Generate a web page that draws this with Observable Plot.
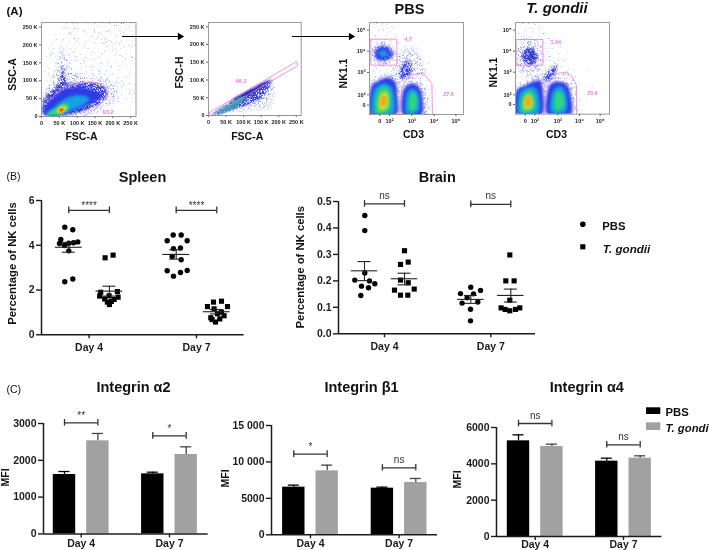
<!DOCTYPE html>
<html>
<head>
<meta charset="utf-8">
<script src="https://cdn.jsdelivr.net/npm/d3@7"></script>
<script src="https://cdn.jsdelivr.net/npm/@observablehq/plot@0.6"></script>
<style>
html,body{margin:0;padding:0;background:#fff;overflow:hidden}
#page{position:relative;width:709px;height:550px;overflow:hidden;background:#fff;filter:blur(0.3px)}
#page svg{position:absolute;overflow:visible;background:transparent}
</style>
</head>
<body>
<svg width="0" height="0" style="position:absolute">
  <defs>
    <filter id="stippleSparse" x="-15%" y="-15%" width="130%" height="130%" color-interpolation-filters="sRGB">
      <feGaussianBlur in="SourceGraphic" stdDeviation="1.5" result="soft"/>
      <feTurbulence type="fractalNoise" baseFrequency="1.6" numOctaves="1" seed="4" result="n"/>
      <feColorMatrix in="n" type="matrix" values="0 0 0 0 0  0 0 0 0 0  0 0 0 0 0  0 0 0 7 -4.6" result="mask"/>
      <feComposite in="soft" in2="mask" operator="in"/>
    </filter>
    <filter id="stippleMid" x="-15%" y="-15%" width="130%" height="130%" color-interpolation-filters="sRGB">
      <feGaussianBlur in="SourceGraphic" stdDeviation="1.5" result="soft"/>
      <feTurbulence type="fractalNoise" baseFrequency="1.6" numOctaves="1" seed="9" result="n"/>
      <feColorMatrix in="n" type="matrix" values="0 0 0 0 0  0 0 0 0 0  0 0 0 0 0  0 0 0 6 -3.1" result="mask"/>
      <feComposite in="soft" in2="mask" operator="in"/>
    </filter>
    <filter id="stippleDense" x="-15%" y="-15%" width="130%" height="130%" color-interpolation-filters="sRGB">
      <feGaussianBlur in="SourceGraphic" stdDeviation="1.2" result="soft"/>
      <feTurbulence type="fractalNoise" baseFrequency="1.6" numOctaves="1" seed="15" result="n"/>
      <feColorMatrix in="n" type="matrix" values="0 0 0 0 0  0 0 0 0 0  0 0 0 0 0  0 0 0 6 -2.2" result="mask"/>
      <feComposite in="soft" in2="mask" operator="in"/>
    </filter>
  </defs>
</svg>
<div id="page"></div>
<script>
// ---------- Data: scatter panels (value and swarm offset per animal) ----------
const days = ["Day 4", "Day 7"];
const spleenPbsD4 = [4.81,4.69,4.26,4.08,3.99,4.09,4.11,4.15,3.75,2.37,2.49];
const spleenPbsD4J = [-4,4,-8,-9.3,-4.3,0,4.7,9,0,-4,4];
const spleenTgD4 = [3.44,3.56,1.93,1.9,1.73,1.74,1.68,1.6,1.58,1.46,1.49,1.35];
const spleenTgD4J = [-4.3,3.7,8,-8.7,-9.7,-0.3,8.7,-4.7,4.7,-2,2,0];
const spleenPbsD7 = [4.46,4.46,4.2,4.2,3.85,3.88,3.5,3.35,2.86,2.87,2.78,2.62];
const spleenPbsD7J = [-3,5,-9,11,-2.7,4.3,-4,5,-9,11,4.3,-2.7];
const spleenTgD7 = [1.46,1.5,1.26,1.26,1.16,1.01,0.94,0.85,0.76,0.71,0.57,0.68];
const spleenTgD7J = [-3.3,4.7,-9.3,10.7,-2.7,4.7,0.7,7.3,-6,3,-1.3,-4.7];
const spleenMean = [3.91,1.95,3.59,1.03];
const spleenLo = [3.69,1.73,3.38,0.93];
const spleenHi = [4.13,2.17,3.8,1.13];

const brainPbsD4 = [0.447,0.39,0.23,0.203,0.2,0.189,0.18,0.174,0.145];
const brainPbsD4J = [0.3,0.3,0.3,-9.7,5,10.3,-3,4,-3.7];
const brainTgD4 = [0.314,0.262,0.271,0.203,0.193,0.165,0.169,0.146,0.146];
const brainTgD4J = [0,-4,3.7,-4,3.7,-10,9.7,-4,3.3];
const brainPbsD7 = [0.176,0.152,0.164,0.151,0.136,0.116,0.12,0.093,0.049];
const brainPbsD7J = [0,-10.3,9.7,2.7,-3.7,-8.7,7,-0.3,-0.3];
const brainTgD7 = [0.298,0.2,0.2,0.127,0.098,0.098,0.092,0.092,0.087];
const brainTgD7J = [-1,-5,3.3,-1,-9.7,9,-5.7,4.7,-1];
const brainMean = [0.238,0.208,0.13,0.145];
const brainLo = [0.201,0.185,0.115,0.12];
const brainHi = [0.273,0.229,0.145,0.169];

// ---------- Data: bar panels (PBS D4, T.g D4, PBS D7, T.g D7) ----------
const alpha2Mean = [1614,2530,1632,2158];
const alpha2Err = [1695,2729,1677,2366];
const beta1Mean = [6540,8780,6400,7180];
const beta1Err = [6815,9560,6540,7730];
const alpha4Mean = [5266,4954,4147,4312];
const alpha4Err = [5596,5083,4312,4440];

// ---------- Data: flow cytometry populations (outlines) ----------
// FSC-A / SSC-A, in thousands
const gateScatter = [[14,36],[49,72],[87,89],[133,96],[166,92],[185,73],[180,50],[152,22],[119,1]];
const scatterHaze = [[5,100],[45,240],[120,255],[262,255],[262,40],[215,20],[190,60],[100,120]];
const scatterPale = [[7,4],[6,59],[30,101],[44,147],[59,196],[73,160],[87,125],[133,115],[190,100],[212,59],[180,25],[124,4]];
const scatterMid = [[8,6],[8,50],[30,73],[49,96],[59,138],[66,111],[77,92],[124,96],[171,87],[185,64],[171,41],[115,13],[68,4]];
const scatterDeep = [[10,6],[10,31],[35,55],[68,78],[115,82],[157,69],[171,59],[157,45],[115,25],[73,8]];
const scatterCyan = [[14,6],[31,22],[59,45],[96,59],[133,53],[124,36],[87,18],[49,5]];
const scatterGreen = [[16,7],[40,22],[63,36],[77,31],[73,19],[44,6]];
const scatterYellow = [[42,14],[54,29],[68,29],[70,19],[54,8]];
const scatterOrange = [[47,15],[54,24],[63,24],[64,16],[54,11]];
const scatterRed = [[51,17],[55,21],[59,20],[58,16]];
const scatterSpeckle = [[62,215],[55,195],[70,200],[60,180],[50,165],[75,170],[65,160],[80,150],[45,150],[55,140],[85,135],[70,140],[90,180],[100,210],[110,175],[120,150],[130,190],[140,140],[150,160],[160,130],[170,175],[180,125],[190,150],[200,120],[210,100],[220,130],[230,90],[240,110],[250,70],[205,70],[215,50],[225,60],[190,40],[200,30],[235,160],[245,200],[255,230],[180,215],[160,235],[140,225],[120,240],[100,245],[80,235],[60,245],[40,230],[30,200],[25,170],[35,130],[20,120],[15,100],[120,200],[150,205],[170,205],[200,185],[220,170],[250,130],[255,165],[210,225],[230,235],[245,250],[100,260],[130,261],[150,260],[170,261],[190,260],[210,261],[230,260],[250,261],[120,261],[90,260],[70,260],[262,240],[262,200],[262,160],[262,120],[262,90],[262,50],[110,120],[125,125],[95,115],[145,115],[165,110],[185,105],[175,60],[195,55],[215,80]];
// FSC-A / FSC-H, in thousands
const gateSinglets = [[1,7.5],[251,152],[254,140],[9,0],[1,7.5]];
const singletPale = [[6,1],[92,52],[178,102],[183,34],[159,20],[73,10],[34,4]];
const singletBlue = [[15,6],[92,57],[174,98],[159,57],[121,34],[63,15],[30,4]];
const singletDeep = [[73,48],[178,100],[140,71],[92,48]];
const singletTeal = [[20,8],[63,34],[92,52],[106,48],[73,23],[34,6]];
const singletSpeckle = [[165,80],[170,70],[175,60],[172,50],[178,90],[180,40],[168,30],[160,25],[150,18],[140,15],[178,75],[182,55],[155,40],[175,35],[185,80],[165,45]];
// CD3 / NK1.1 in display channels
const cd3Ticks = ["0","10²","10³","10⁴","10⁵"];
const nkTicks = ["10⁵","10⁴","10³","10²","0"];
const pbsXTickCh = [39,68,135,202,267];
const pbsYTickCh = [30,93,157,224,255];
const tgXTickCh = [39,68,137,202,264];
const tgYTickCh = [30,93,156,224,253];
const pbsLeft = [
  [[12,283],[12,205],[30,185],[60,172],[85,185],[92,230],[88,283]],
  [[18,282],[20,215],[40,192],[65,192],[80,215],[80,282]],
  [[28,276],[30,222],[50,200],[70,215],[72,260],[60,276]],
  [[36,264],[39,228],[55,214],[65,232],[63,258],[50,270]],
  [[43,254],[44,232],[54,226],[58,240],[56,252],[50,258]]
];
const pbsLeftPale = [[5,285],[5,190],[30,172],[72,160],[94,178],[97,285]];
const pbsRight = [
  [[108,283],[108,215],[128,192],[150,195],[165,220],[165,283]],
  [[118,280],[118,225],[135,205],[155,220],[158,265],[148,280]],
  [[128,268],[128,232],[140,216],[150,235],[150,258],[140,270]]
];
const pbsRightPale = [[98,283],[100,198],[125,178],[158,182],[180,212],[184,283]];
const pbsNkPale = [[12,100],[28,66],[62,66],[88,100],[66,134],[28,134]];
const pbsNkBlue = [[25,100],[35,82],[60,82],[78,100],[60,118],[35,118]];
const pbsNkCyan = [[35,100],[45,90],[60,95],[65,105],[50,110]];
const pbsBridgePale = [[85,180],[90,110],[130,80],[165,120],[172,178],[130,190]];
const pbsBridgeBlue = [[99,172],[104,135],[120,122],[136,135],[133,160],[120,172]];
const pbsHaze = [[12,60],[20,15],[70,10],[95,60],[92,150],[20,165]];
const pbsSpeckle = [[30,10],[45,15],[60,12],[75,20],[35,30],[50,30],[70,35],[25,45],[60,45],[85,50],[95,70],[105,90],[115,80],[125,95],[135,85],[150,100],[160,115],[145,125],[165,135],[175,150],[120,60],[100,110],[90,135],[80,145],[60,150],[40,150],[20,150],[25,170],[180,180],[195,170],[205,220],[210,260],[185,130],[155,75],[110,45],[130,110],[95,150],[15,60],[15,120],[200,200]];
const pbsGateNk = [[12,57],[90,57],[90,135],[12,135],[12,57]];
const pbsGateT = [[98,280],[105,200],[130,165],[168,157],[195,190],[197,283]];
const tgLeft = [
  [[12,282],[12,215],[40,195],[78,180],[90,195],[90,282]],
  [[20,280],[20,225],[40,205],[65,200],[80,225],[78,280]],
  [[28,274],[30,232],[48,212],[65,222],[70,260],[55,274]],
  [[36,264],[36,237],[50,222],[62,240],[60,260],[48,268]],
  [[41,256],[43,234],[52,228],[57,240],[55,254],[48,260]]
];
const tgLeftPale = [[6,282],[8,205],[40,180],[92,160],[102,182],[97,282]];
const tgRight = [
  [[105,282],[108,205],[130,185],[160,190],[175,220],[175,282]],
  [[118,278],[118,225],[135,200],[155,205],[165,240],[160,276]],
  [[128,266],[128,227],[142,214],[155,230],[155,258],[140,270]]
];
const tgRightPale = [[98,282],[100,192],[130,160],[168,160],[188,198],[192,282]];
const tgNkPale = [[13,132],[18,68],[50,48],[87,75],[92,132],[66,162],[34,162]];
const tgNkBlue = [[30,115],[35,90],[55,82],[75,100],[72,125],[50,135]];
const tgNkDeep = [[45,110],[55,95],[68,105],[60,120]];
const tgWedge = [[92,178],[120,140],[137,138],[118,178]];
const tgHaze = [[12,60],[20,15],[70,10],[130,60],[175,130],[95,175],[20,175]];
const tgSpeckle = [[30,10],[50,8],[70,12],[40,30],[60,35],[80,45],[100,70],[120,85],[140,100],[155,120],[165,95],[130,60],[110,110],[95,125],[150,140],[170,145],[190,170],[200,190],[205,240],[210,270],[20,40],[75,150],[50,165],[30,175],[15,170],[230,150],[240,200],[100,150],[125,125],[185,150],[145,80],[115,135]];
const tgGateNk = [[12,58],[92,58],[92,135],[12,135],[12,58]];
const tgGateT = [[95,282],[108,190],[135,160],[165,155],[180,170],[193,195],[193,282]];

// ---------- Drawing helpers ----------
const FONT = "'Liberation Sans', Arial, sans-serif";
const INK = "#1c1c1c", PINK = "#ee78e0", GRAY = "#a1a1a1";
const RAMP = {pale:"#8d94ef",blue:"#2f39e6",cyan:"#12a2e2",green:"#2fd680",yellow:"#cfe226",orange:"#f59a20",red:"#e4341c"};
const page = document.getElementById("page");

function panel({x0,x1,y0,y1,xDomain,yDomain,fontSize=10,marks}) {
  const ml=48, mr=12, mt=12, mb=24;
  const plot = Plot.plot({
    width:x1-x0+ml+mr, height:y1-y0+mt+mb,
    marginLeft:ml, marginRight:mr, marginTop:mt, marginBottom:mb,
    x:{type:"linear",domain:xDomain}, y:{type:"linear",domain:yDomain},
    style:{font:`bold ${fontSize}px ${FONT}`, color:INK, background:"transparent"},
    marks
  });
  plot.style.left=(x0-ml)+"px"; plot.style.top=(y0-mt)+"px";
  page.appendChild(plot);
}
const shape = (pts,color,filter) => Plot.line(pts,{x:d=>d[0],y:d=>d[1],fill:color,stroke:"none",curve:"cardinal-closed",imageFilter:filter,clip:"frame"});
const blob = (pts,color,blur=1.4) => shape(pts,color,`blur(${blur}px)`);
const sparse = (pts,color=RAMP.pale) => shape(pts,color,"url(#stippleSparse)");
const mid = (pts,color=RAMP.pale) => shape(pts,color,"url(#stippleMid)");
const dense = (pts,color=RAMP.blue) => shape(pts,color,"url(#stippleDense)");
const core = (pop,colors) => pop.map((p,i)=>blob(p,colors[i],1.5));
const gate = (pts) => Plot.line(pts,{x:d=>d[0],y:d=>d[1],stroke:PINK,strokeWidth:0.8,clip:"frame"});
const speckle = (pts) => Plot.dot(pts,{x:d=>d[0],y:d=>d[1],r:0.5,fill:"#6a72e6",fillOpacity:0.6,stroke:"none",clip:"frame"});
const tag = (t,x,y) => Plot.text([t],{x:()=>x,y:()=>y,text:d=>d,fill:PINK,fontSize:5.5});
const frame = () => Plot.frame({stroke:"#9a9a9a",strokeWidth:1});
const kFmt = d => d===0?"0":d+" K";
function kAxes() {
  return [
    Plot.axisX({ticks:d3.range(0,251,50),tickFormat:kFmt,tickSize:2,tickPadding:2.5,label:null,stroke:"#666"}),
    Plot.axisX({ticks:d3.range(0,261,10),tickFormat:()=>"",tickSize:1,label:null,stroke:"#888"}),
    Plot.axisY({ticks:d3.range(0,251,50),tickFormat:kFmt,tickSize:2,tickPadding:2,label:null,stroke:"#666"})
  ];
}
function logAxes(xt,yt) {
  const xf=d=>cd3Ticks[xt.indexOf(d)], yf=d=>nkTicks[yt.indexOf(d)];
  return [
    Plot.axisX({ticks:xt,tickFormat:xf,tickSize:2,tickPadding:2.5,label:null,stroke:"#666"}),
    Plot.axisY({ticks:yt,tickFormat:yf,tickSize:2,tickPadding:2,label:null,stroke:"#666"})
  ];
}

// ---- group geometry helpers (x scales in these panels run 1 unit per pixel) ----
function bracket(xa,xb,v,text,capV,dy,size) {
  const m=(xa+xb)/2;
  return [
    Plot.ruleY([v],{x1:xa,x2:xb,stroke:"#333",strokeWidth:1.3}),
    Plot.ruleX([xa,xb],{y1:v-capV,y2:v+capV,stroke:"#333",strokeWidth:1.3}),
    Plot.text([text],{x:()=>m,y:()=>v,text:d=>d,dy,lineAnchor:"bottom",fontWeight:"normal",fontSize:size,fill:"#333"})
  ];
}
function gpAxes(dayPos,yTicks,yFmt,maxX,pad) {
  return [
    Plot.ruleY([0],{x1:0,x2:maxX,stroke:INK,strokeWidth:1.5}),
    Plot.ruleX([0],{y1:0,y2:yTicks[yTicks.length-1],stroke:INK,strokeWidth:1.5}),
    Plot.axisX({ticks:dayPos,tickFormat:d=>days[dayPos.indexOf(d)],tickSize:4,tickPadding:pad,label:null,strokeWidth:1.4}),
    Plot.axisY({ticks:yTicks,tickFormat:yFmt,tickSize:5,tickPadding:2,label:null,strokeWidth:1.4})
  ];
}
function swarmPanel(cfg) {
  const {dayPos,off,groups,mean,lo,hi,halfMean,brackets}=cfg;
  const pts=(vals,jit,cx)=>vals.map((v,i)=>({x:cx+jit[i],v}));
  const centers=[dayPos[0]-off,dayPos[0]+off,dayPos[1]-off,dayPos[1]+off];
  const summary=centers.map((c,i)=>({c,m:mean[i],lo:lo[i],hi:hi[i]}));
  panel({...cfg.box,marks:[
    ...gpAxes(dayPos,cfg.yTicks,cfg.yFmt,cfg.box.xDomain[1],4.5),
    Plot.dot(pts(groups[0],groups[1],centers[0]),{x:"x",y:"v",r:2.7,fill:"#000",stroke:"none"}),
    Plot.dot(pts(groups[2],groups[3],centers[1]),{x:"x",y:"v",r:2.9,symbol:"square",fill:"#000",stroke:"none"}),
    Plot.dot(pts(groups[4],groups[5],centers[2]),{x:"x",y:"v",r:2.7,fill:"#000",stroke:"none"}),
    Plot.dot(pts(groups[6],groups[7],centers[3]),{x:"x",y:"v",r:2.9,symbol:"square",fill:"#000",stroke:"none"}),
    Plot.ruleY(summary,{y:"m",x1:d=>d.c-halfMean,x2:d=>d.c+halfMean,stroke:"#222",strokeWidth:1.1}),
    Plot.ruleX(summary,{x:"c",y1:"lo",y2:"hi",stroke:"#222",strokeWidth:1.1}),
    Plot.ruleY(summary,{y:"lo",x1:d=>d.c-6.5,x2:d=>d.c+6.5,stroke:"#222",strokeWidth:1.1}),
    Plot.ruleY(summary,{y:"hi",x1:d=>d.c-6.5,x2:d=>d.c+6.5,stroke:"#222",strokeWidth:1.1}),
    ...brackets.flatMap(b=>bracket(dayPos[b.i]-off,dayPos[b.i]+off,b.v,b.text,cfg.capV,b.dy,b.size))
  ]});
}
function barPanel(cfg) {
  const {dayPos,mean,err,brackets}=cfg;
  const off=16.7, hw=11.2;
  const centers=[dayPos[0]-off,dayPos[0]+off,dayPos[1]-off,dayPos[1]+off];
  const rows=centers.map((c,i)=>({c,m:mean[i],e:err[i],col:i%2?GRAY:"#000"}));
  panel({...cfg.box,marks:[
    Plot.ruleX(rows,{x:"c",y1:"m",y2:"e",stroke:d=>d.col==="#000"?"#000":"#444",strokeWidth:1.3}),
    Plot.ruleY(rows,{y:"e",x1:d=>d.c-5.5,x2:d=>d.c+5.5,stroke:d=>d.col==="#000"?"#000":"#444",strokeWidth:1.3}),
    Plot.rectY(rows,{x1:d=>d.c-hw,x2:d=>d.c+hw,y1:0,y2:"m",fill:"col",inset:0}),
    ...gpAxes(dayPos,cfg.yTicks,cfg.yFmt,cfg.box.xDomain[1],cfg.pad),
    ...brackets.flatMap(b=>bracket(dayPos[b.i]-off,dayPos[b.i]+off,b.v,b.text,cfg.capV,b.dy,b.size))
  ]});
}

// ---------- Panel A: flow cytometry ----------
panel({x0:40.5,x1:135,y0:22.3,y1:116.3,xDomain:[0,265],yDomain:[0,262.5],fontSize:5.5,marks:[
  sparse(scatterHaze),
  mid(scatterPale),
  dense(scatterMid),
  blob(scatterDeep,RAMP.blue,1.5),
  blob(scatterCyan,RAMP.cyan,1.4),
  blob(scatterGreen,RAMP.green,1),
  blob(scatterYellow,RAMP.yellow,0.8),
  blob(scatterOrange,RAMP.orange,0.6),
  blob(scatterRed,RAMP.red,0.5),
  speckle(scatterSpeckle),
  gate(gateScatter),
  tag("93.2",187,13),
  frame(), ...kAxes()
]});
panel({x0:208,x1:300.7,y0:22.3,y1:115.3,xDomain:[0,264],yDomain:[0,262],fontSize:5.5,marks:[
  mid(singletPale),
  dense(singletBlue),
  blob(singletDeep,"#1a1f9e",0.8),
  blob(singletTeal,"#2aa8a8",1),
  speckle(singletSpeckle),
  gate(gateSinglets),
  tag("96.3",93,96),
  frame(), ...kAxes()
]});
const leftColors=[RAMP.blue,RAMP.cyan,RAMP.green,RAMP.yellow,RAMP.orange];
const rightColors=[RAMP.blue,RAMP.cyan,RAMP.green];
panel({x0:368.7,x1:462.7,y0:22.3,y1:114.3,xDomain:[8,290],yDomain:[283,7],fontSize:5.5,marks:[
  sparse(pbsHaze),
  mid(pbsBridgePale),
  dense(pbsBridgeBlue,"#3a44e6"),
  mid(pbsNkPale), dense(pbsNkBlue), blob(pbsNkBlue,RAMP.blue,2.2), blob(pbsNkCyan,RAMP.cyan,1.6),
  mid(pbsLeftPale), ...core(pbsLeft,leftColors),
  mid(pbsRightPale), ...core(pbsRight,rightColors),
  speckle(pbsSpeckle),
  gate(pbsGateNk), gate(pbsGateT),
  tag("4.7",124,58), tag("27.6",245,222),
  frame(), ...logAxes(pbsXTickCh,pbsYTickCh)
]});
panel({x0:515.3,x1:609.3,y0:22.3,y1:114,xDomain:[10,292],yDomain:[282,7],fontSize:5.5,marks:[
  sparse(tgHaze),
  dense(tgWedge,"#3a44e6"),
  mid(tgNkPale), dense(tgNkBlue), blob(tgNkDeep,"#2a34c8",2),
  mid(tgLeftPale), ...core(tgLeft,leftColors),
  mid(tgRightPale), ...core(tgRight,rightColors),
  speckle(tgSpeckle),
  gate(tgGateNk), gate(tgGateT),
  tag("1.44",131,66), tag("25.6",241,219),
  frame(), ...logAxes(tgXTickCh,tgYTickCh)
]});

// ---------- Panel B ----------
swarmPanel({
  box:{x0:40.7,x1:243.3,y0:200,y1:334.3,xDomain:[0,202.6],yDomain:[0,6],fontSize:10.5},
  dayPos:[47.6,155], off:20.3, halfMean:13.4, capV:0.15,
  yTicks:[0,2,4,6], yFmt:d3.format("d"),
  groups:[spleenPbsD4,spleenPbsD4J,spleenTgD4,spleenTgD4J,spleenPbsD7,spleenPbsD7J,spleenTgD7,spleenTgD7J],
  mean:spleenMean, lo:spleenLo, hi:spleenHi,
  brackets:[{i:0,v:5.56,text:"****",dy:-1.5,size:10},{i:1,v:5.56,text:"****",dy:-1.5,size:10}]
});
swarmPanel({
  box:{x0:338,x1:535,y0:201,y1:333.3,xDomain:[0,197],yDomain:[0,0.5],fontSize:10.5},
  dayPos:[46,152.3], off:20, halfMean:13.2, capV:0.0125,
  yTicks:[0,0.1,0.2,0.3,0.4,0.5], yFmt:d3.format(".1f"),
  groups:[brainPbsD4,brainPbsD4J,brainTgD4,brainTgD4J,brainPbsD7,brainPbsD7J,brainTgD7,brainTgD7J],
  mean:brainMean, lo:brainLo, hi:brainHi,
  brackets:[{i:0,v:0.491,text:"ns",dy:-5,size:10},{i:1,v:0.489,text:"ns",dy:-5,size:10}]
});

// ---------- Panel C ----------
barPanel({
  box:{x0:43.3,x1:208,y0:423.3,y1:533.7,xDomain:[0,164.7],yDomain:[0,3000],fontSize:10.5},
  dayPos:[37.7,126], mean:alpha2Mean, err:alpha2Err, capV:90, pad:1.5,
  yTicks:[0,1000,2000,3000], yFmt:d3.format("d"),
  brackets:[{i:0,v:3019,text:"**",dy:-4,size:10},{i:1,v:2665,text:"*",dy:-4,size:10}]
});
barPanel({
  box:{x0:270.7,x1:436.7,y0:425,y1:534.3,xDomain:[0,166],yDomain:[0,15000],fontSize:10.5},
  dayPos:[39,127.6], mean:beta1Mean, err:beta1Err, capV:450, pad:1,
  yTicks:[0,5000,10000,15000], yFmt:d=>d>=10000?`${d/1000} 000`:String(d),
  brackets:[{i:0,v:11070,text:"*",dy:-4,size:10},{i:1,v:9190,text:"ns",dy:-5,size:10}]
});
barPanel({
  box:{x0:496.3,x1:661.7,y0:426.7,y1:535.7,xDomain:[0,165.4],yDomain:[0,6000],fontSize:10.5},
  dayPos:[38.7,127], mean:alpha4Mean, err:alpha4Err, capV:180, pad:0,
  yTicks:[0,2000,4000,6000], yFmt:d3.format("d"),
  brackets:[{i:0,v:6220,text:"ns",dy:-5,size:10},{i:1,v:5046,text:"ns",dy:-5,size:10}]
});

// ---------- Text, arrows and legends laid over the page ----------
const T = (text,x,y,size,o={}) => Plot.text([text],{x:()=>x,y:()=>y,text:d=>d,fontSize:size,lineAnchor:o.rotate?"middle":"bottom",textAnchor:o.anchor||"middle",fontWeight:o.weight||"bold",fontStyle:o.italic?"italic":"normal",rotate:o.rotate||0,fill:"#111"});
const arrow = (x1,x2,y) => [
  Plot.ruleY([y],{x1,x2,stroke:"#000",strokeWidth:1.2}),
  Plot.dot([0],{x:()=>x2+1.5,y:()=>y,symbol:"triangle",r:2.7,rotate:90,fill:"#000",stroke:"none"})
];
const overlay = Plot.plot({
  width:709,height:550,margin:0,
  x:{type:"linear",domain:[0,709],range:[0,709],axis:null},
  y:{type:"linear",domain:[0,550],range:[0,550],axis:null},
  style:{font:`bold 10px ${FONT}`,background:"transparent",pointerEvents:"none"},
  marks:[
    T("(A)",6,14.5,11.5,{anchor:"start"}),
    T("(B)",6,179,10.5,{anchor:"start",weight:"normal"}),
    T("(C)",6,392,10.5,{anchor:"start",weight:"normal"}),
    T("PBS",409,13.3,14.5),
    T("T. gondii",556.5,12.7,15,{italic:true}),
    T("FSC-A",81,139,10.5), T("FSC-A",246.7,139,10.5),
    T("SSC-A",12.5,74,10.5,{rotate:-90}), T("FSC-H",179,72,10.5,{rotate:-90}),
    T("NK1.1",343,73,10.5,{rotate:-90}), T("NK1.1",493,72,10.5,{rotate:-90}),
    T("CD3",413,137,10.5), T("CD3",556,137,10.5),
    ...arrow(122,178,36), ...arrow(292,349,36),
    T("Spleen",142,181.7,14.5), T("Brain",436.7,181.7,14.5),
    T("Percentage of NK cells",11.7,263,11.3,{rotate:-90}),
    T("Percentage of NK cells",300,266.7,11.3,{rotate:-90}),
    Plot.dot([0],{x:()=>582.3,y:()=>223.7,r:2.8,fill:"#000",stroke:"none"}),
    Plot.dot([0],{x:()=>582.3,y:()=>246.3,r:2.9,symbol:"square",fill:"#000",stroke:"none"}),
    T("PBS",601.7,229.7,11.3,{anchor:"start"}),
    T("T. gondii",602.3,252,11.6,{anchor:"start",italic:true}),
    T("Integrin α2",133,391.7,14.5), T("Integrin β1",361,391.7,14.5), T("Integrin α4",586.3,391.7,14.5),
    T("MFI",5,477,10.5,{rotate:-90}), T("MFI",225,478,10.5,{rotate:-90}), T("MFI",456.7,479,10.5,{rotate:-90}),
    Plot.rect([0],{x1:()=>646,x2:()=>660.3,y1:()=>407.3,y2:()=>414,fill:"#000"}),
    Plot.rect([0],{x1:()=>646,x2:()=>660.3,y1:()=>422.3,y2:()=>430,fill:GRAY}),
    T("PBS",665,415,11.3,{anchor:"start"}),
    T("T. gondi",665,431,11.3,{anchor:"start",italic:true})
  ]
});
overlay.style.left="0"; overlay.style.top="0";
page.appendChild(overlay);
</script>
</body>
</html>
